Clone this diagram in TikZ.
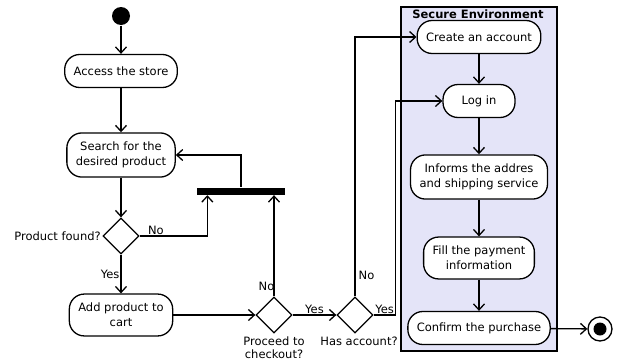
\documentclass[tikz,border=0pt]{standalone}
\usepackage{fontspec}
\setmainfont{DejaVu Sans}
\usetikzlibrary{shapes.geometric,arrows.meta}
\definecolor{securebg}{RGB}{228,228,248}
\begin{document}
\begin{tikzpicture}[
    x=1pt, y=-1pt,
    font=\fontsize{11.5}{15}\selectfont,
    line width=1.3pt,
    >={Straight Barb[length=6pt,width=11pt]},
    action/.style={draw, fill=white, rounded corners=15pt, align=center,
        minimum height=33pt, inner xsep=9pt, inner ysep=9pt},
    decision/.style={diamond, draw, fill=white, minimum width=36pt,
        minimum height=36pt, inner sep=0pt},
    guard/.style={inner sep=1pt}
]
\useasboundingbox (0,0) rectangle (619,362);

% Secure
\draw[fill=securebg] (401,7) rectangle (557,351);
\node[font=\fontsize{11.5}{15}\selectfont\bfseries, inner sep=0pt] (securetitle) at (478,14) {Secure Environment};

% Nodi
\node[circle, fill=black, minimum size=18pt, inner sep=0pt] (start) at (121,16) {};
\node[action] (access) at (121,71) {Access the store};
\node[action] (search) at (121,155) {Search for the\\desired product};
\node[decision] (found) at (121,236) {};
\node[action] (add) at (121,315) {Add product to\\cart};
\node[fill=black, minimum width=88pt, minimum height=7pt, inner sep=0pt] (bar) at (241,191) {};
\node[decision] (proceed) at (274,315) {};
\node[decision] (hasacc) at (355,315) {};
\node[action] (create) at (479,37) {Create an account};
\node[action, minimum width=72pt] (login) at (479,101) {Log in};
\node[action] (informs) at (479,177) {Informs the addres\\and shipping service};
\node[action] (fill) at (479,258) {Fill the payment\\information};
\node[action] (confirm) at (479,328) {Confirm the purchase};
\node[circle, draw, minimum size=24pt, inner sep=0pt] (end) at (600,329) {};
\fill (end.center) circle (6.5);

% Etichette
\node[guard, anchor=east] (foundlbl) at (found.west) {Product found?};
\node[guard, anchor=north, align=center, font=\fontsize{11.5}{13}\selectfont] (proceedlbl) at ([yshift=-1pt]proceed.south) {Proceed to\\checkout?};
\node[guard, anchor=north] (haslbl) at ([xshift=4pt,yshift=-2pt]hasacc.south) {Has account?};

% Archi
\draw[->] (start) -- (access);
\draw[->] (access) -- (search);
\draw[->] (search) -- (found);
\draw[->] (found.east) -| ([xshift=11pt]bar.south west) node[guard, pos=0.12, above] {No};
\draw[->] (bar.north) |- (search.east);
\draw[->] (found.south) -- (add.north) node[guard, midway, left] {Yes};
\draw[->] (add.east) -- (proceed.west);
\draw[->] (proceed.north) -- (proceed.north |- bar.south) node[guard, pos=0.1, left, xshift=2pt] {No};
\draw[->] (proceed.east) -- (hasacc.west) node[guard, midway, above] {Yes};
\draw[->] (hasacc.north) |- (create.west) node[guard, pos=0.04, right, xshift=2pt] {No};
\draw[->] (hasacc.east) -- ++(22,0) node[guard, midway, above] {Yes} |- (login.west);
\draw[->] (create) -- (login);
\draw[->] (login) -- (informs);
\draw[->] (informs) -- (fill);
\draw[->] (fill) -- (confirm);
\draw[->] (confirm) -- (end);
\end{tikzpicture}
\end{document}
